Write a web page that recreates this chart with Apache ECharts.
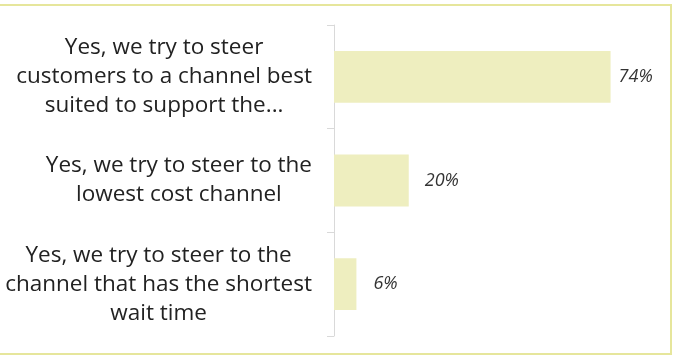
<!DOCTYPE html>
<html>
<head>
<meta charset="utf-8">
<script src="https://cdn.jsdelivr.net/npm/echarts@6/dist/echarts.min.js"></script>
<style>html,body{margin:0;padding:0;background:#fff;}#c{width:674px;height:357px;}</style>
</head>
<body>
<div id="c"></div>
<script>
var categories = [
  ["Yes, we try to steer", "customers to a channel best", "suited to support the..."],
  ["Yes, we try to steer to the", "lowest cost channel"],
  ["Yes, we try to steer to the", "channel that has the shortest", "wait time"]
];
var values = [74, 20, 6];
var labelGaps = [8, 16, 17];

var chart = echarts.init(document.getElementById('c'));
chart.setOption({
  animation: false,
  graphic: [{
    type: 'rect', silent: true, z: -1,
    shape: {x: -10, y: 5, width: 681, height: 349},
    style: {fill: 'none', stroke: '#e6e69c', lineWidth: 2}
  }],
  grid: {left: 334, right: 41, top: 25, bottom: 21},
  xAxis: {type: 'value', min: 0, max: 80, show: false},
  yAxis: {
    type: 'category',
    inverse: true,
    data: categories.map(function (c) { return c.join('\n'); }),
    axisLine: {show: true, lineStyle: {color: '#d9d9d9', width: 1}},
    axisTick: {show: true, length: 7, lineStyle: {color: '#d9d9d9', width: 1}},
    axisLabel: {
      margin: 22,
      align: 'right',
      formatter: function (v) {
        return v.split('\n').map(function (l) { return '{c|' + l + '}'; }).join('\n');
      },
      rich: {
        c: {align: 'center', fontFamily: 'Open Sans', fontSize: 22.5, lineHeight: 29, color: '#222'}
      }
    }
  },
  series: [{
    type: 'bar',
    barCategoryGap: '50%',
    itemStyle: {color: '#eeeebf'},
    data: values.map(function (v, i) {
      return {value: v, label: {distance: labelGaps[i]}};
    }),
    label: {
      show: true, position: 'right',
      formatter: '{c}%',
      fontFamily: 'Open Sans', fontStyle: 'italic', fontSize: 18, color: '#333'
    }
  }]
});
</script>
</body>
</html>
